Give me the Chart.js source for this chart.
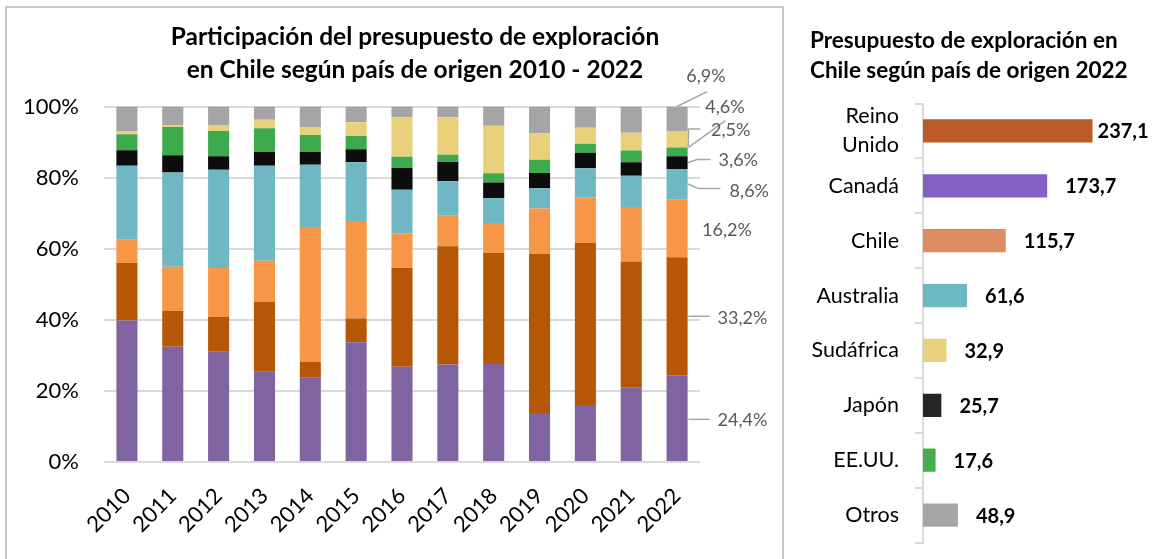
<!DOCTYPE html>
<html>
<head>
<meta charset="utf-8">
<script src="https://cdn.jsdelivr.net/npm/chart.js@4.4.0/dist/chart.umd.min.js"></script>
<style>
  body { margin: 0; width: 1174px; height: 559px; background: #fff; position: relative; overflow: hidden; font-family: Lato, sans-serif; }
  #marco { position: absolute; left: 5px; top: 6px; width: 775px; height: 570px; border: 2px solid #c6c6c6; border-bottom: none; }
  #cv1 { position: absolute; left: 0; top: 0; }
  #cv2 { position: absolute; left: 782px; top: 0; }
  .titulo { position: absolute; font-weight: bold; color: #000; }
  #t1 { left: 0; width: 830px; top: 19px; font-size: 24.5px; line-height: 33px; text-align: center; }
  #t2 { left: 810px; top: 25px; font-size: 22.5px; line-height: 30px; }
</style>
</head>
<body>
<div id="marco"></div>
<canvas id="cv1" width="782" height="559"></canvas>
<canvas id="cv2" width="392" height="559"></canvas>
<div class="titulo" id="t1">Participación del presupuesto de exploración<br>en Chile según país de origen 2010 - 2022</div>
<div class="titulo" id="t2">Presupuesto de exploración en<br>Chile según país de origen 2022</div>

<script>
// participación (%) por año
const anios = ['2010', '2011', '2012', '2013', '2014', '2015', '2016', '2017', '2018', '2019', '2020', '2021', '2022'];
const canada     = [39.8, 32.4, 31.0, 25.4, 23.7, 33.7, 26.8, 27.4, 27.6, 13.8, 16.0, 21.0, 24.4];
const reinoUnido = [16.2, 10.1,  9.8, 19.6,  4.4,  6.7, 27.8, 33.3, 31.2, 44.7, 45.6, 35.4, 33.2];
const chile      = [ 6.5, 12.4, 13.8, 11.6, 38.0, 27.4,  9.7,  8.6,  8.4, 12.8, 12.9, 15.3, 16.2];
const australia  = [20.8, 26.5, 27.6, 26.7, 17.5, 16.5, 12.3,  9.7,  7.0,  5.7,  8.1,  8.8,  8.6];
const japon      = [ 4.4,  4.9,  3.8,  3.9,  3.6,  3.7,  6.1,  5.4,  4.4,  4.3,  4.4,  3.8,  3.6];
const eeuu       = [ 4.5,  7.9,  7.1,  6.7,  4.8,  3.7,  3.2,  2.0,  2.6,  3.7,  2.5,  3.3,  2.5];
const sudafrica  = [ 0.8,  0.6,  1.7,  2.4,  2.1,  3.9, 11.1, 10.6, 13.4,  7.5,  4.5,  5.0,  4.6];
const otros      = [ 7.0,  5.2,  5.2,  3.7,  5.9,  4.4,  3.0,  3.0,  5.4,  7.5,  6.0,  7.4,  6.9];
const yTicks = [0, 20, 40, 60, 80, 100];

// presupuesto 2022 (MUS$)
const paises = [['Reino', 'Unido'], 'Canadá', 'Chile', 'Australia', 'Sudáfrica', 'Japón', 'EE.UU.', 'Otros'];
const montos2022 = [237.1, 173.7, 115.7, 61.6, 32.9, 25.7, 17.6, 48.9];

const coma = (v, d) => v.toFixed(d).replace('.', ',');

// etiquetas del último año con sus guías (dx desde el borde derecho de la barra, v en %)
const guias2022 = [
  { ds: 0, texto: [30, 11.8],   linea: [[0.7, 12.0], [22, 12.0]] },
  { ds: 1, texto: [30, 40.4],   linea: [[0.7, 41.0], [22, 41.0]] },
  { ds: 2, texto: [14.4, 65.1], linea: [] },
  { ds: 3, texto: [42, 76.3],   linea: [[0.4, 78.2], [11, 76.9], [32.7, 76.9]] },
  { ds: 4, texto: [31, 85.0],   linea: [[0.4, 84.2], [9.4, 85.1], [22.7, 85.1]] },
  { ds: 5, texto: [23.4, 93.2], linea: [[1, 88.5], [37.7, 96.0]] },
  { ds: 6, texto: [17.7, 99.7], linea: [[0.5, 88.5], [1, 93.7], [12.7, 93.7]] },
  { ds: 7, texto: [-1.3, 108.4], linea: [[-10.6, 100], [19.4, 104.2]] },
];

const etiquetas2022 = {
  id: 'etiquetas2022',
  afterDraw(chart) {
    const ctx = chart.ctx;
    const y = chart.scales.y;
    const last = anios.length - 1;
    ctx.save();
    guias2022.forEach(g => {
      const bar = chart.getDatasetMeta(g.ds).data[last];
      const xr = bar.x + bar.width / 2;
      if (g.linea.length) {
        ctx.strokeStyle = '#a6a6a6';
        ctx.lineWidth = 1.5;
        ctx.beginPath();
        g.linea.forEach(([dx, v], i) => {
          const px = xr + dx, py = y.getPixelForValue(v);
          if (i === 0) ctx.moveTo(px, py); else ctx.lineTo(px, py);
        });
        ctx.stroke();
      }
      const val = chart.data.datasets[g.ds].data[last];
      ctx.fillStyle = '#595959';
      ctx.font = '18px Lato';
      ctx.textAlign = 'left';
      ctx.textBaseline = 'middle';
      ctx.fillText(coma(val, 1) + '%', xr + g.texto[0], y.getPixelForValue(g.texto[1]));
    });
    ctx.restore();
  }
};

new Chart(document.getElementById('cv1'), {
  type: 'bar',
  data: {
    labels: anios,
    datasets: [
      { label: 'Canadá', data: canada, backgroundColor: '#8064A2' },
      { label: 'Reino Unido', data: reinoUnido, backgroundColor: '#B65708' },
      { label: 'Chile', data: chile, backgroundColor: '#F79646' },
      { label: 'Australia', data: australia, backgroundColor: '#6FB8C3' },
      { label: 'Japón', data: japon, backgroundColor: '#0D0D0D' },
      { label: 'EE.UU.', data: eeuu, backgroundColor: '#3DAA4D' },
      { label: 'Sudáfrica', data: sudafrica, backgroundColor: '#E9D17B' },
      { label: 'Otros', data: otros, backgroundColor: '#A5A5A5' },
    ],
  },
  options: {
    responsive: false,
    animation: false,
    layout: { padding: { top: 106.5, right: 82, left: 0, bottom: 0 } },
    datasets: { bar: { barPercentage: 0.46, categoryPercentage: 1, borderWidth: 0 } },
    scales: {
      x: {
        stacked: true,
        grid: { display: false },
        border: { display: false },
        afterFit: s => { s.height = 97; },
        ticks: { autoSkip: false, minRotation: 45, maxRotation: 45, padding: 13, color: '#000', font: { family: 'Lato', size: 22 } },
      },
      y: {
        stacked: true,
        min: 0,
        max: 100,
        afterFit: s => { s.width = 104; },
        afterBuildTicks: s => { s.ticks = yTicks.map(v => ({ value: v })); },
        grid: { color: '#d9d9d9', lineWidth: 2, drawTicks: false },
        border: { display: false },
        ticks: { padding: 25, color: '#000', font: { family: 'Lato', size: 22 }, callback: v => v + '%' },
      },
    },
    plugins: { legend: { display: false }, tooltip: { enabled: false } },
  },
  plugins: [etiquetas2022],
});

const valoresBarra = {
  id: 'valoresBarra',
  afterDatasetsDraw(chart) {
    const ctx = chart.ctx;
    const meta = chart.getDatasetMeta(0);
    ctx.save();
    ctx.font = 'bold 20px Lato';
    ctx.fillStyle = '#000';
    ctx.textAlign = 'left';
    ctx.textBaseline = 'middle';
    meta.data.forEach((bar, i) => {
      const txt = coma(montos2022[i], 1);
      const w = ctx.measureText(txt).width;
      let x = bar.x + 18;
      if (x + w > chart.width - 20) x = bar.x + 5;
      ctx.fillText(txt, x, bar.y + 1);
    });
    ctx.restore();
  }
};

new Chart(document.getElementById('cv2'), {
  type: 'bar',
  data: {
    labels: paises,
    datasets: [{
      data: montos2022,
      backgroundColor: ['#BA5B27', '#8560C4', '#DE8B5F', '#6DB9C3', '#E8D17E', '#262626', '#44AE4E', '#A6A6A6'],
      barPercentage: 0.425,
      categoryPercentage: 1,
    }],
  },
  options: {
    indexAxis: 'y',
    responsive: false,
    animation: false,
    layout: { padding: { top: 103.5, bottom: 16.5, right: 36.5, left: 0 } },
    scales: {
      x: { display: false, min: 0, max: 300 },
      y: {
        afterFit: s => { s.width = 141; s.paddingTop = 0; s.paddingBottom = 0; },
        grid: { drawOnChartArea: false, drawTicks: true, tickLength: 8, color: '#d9d9d9', lineWidth: 2 },
        border: { display: true, color: '#d9d9d9', width: 2 },
        ticks: { autoSkip: false, padding: 16, color: '#000', font: { family: 'Lato', size: 21.5, lineHeight: 1.35 } },
      },
    },
    plugins: { legend: { display: false }, tooltip: { enabled: false } },
  },
  plugins: [valoresBarra],
});
</script>
</body>
</html>
